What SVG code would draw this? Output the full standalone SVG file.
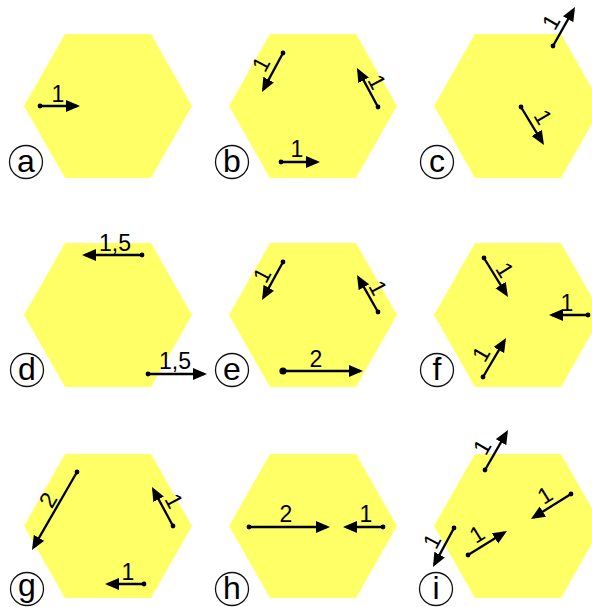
<svg xmlns="http://www.w3.org/2000/svg" width="592" height="607" viewBox="0 0 592 607">
<style>
.hex{fill:#FFFF66;stroke:none}
.tag circle{fill:#fff;stroke:#111;stroke-width:1.3}
.tag text{font-family:"Liberation Sans",Arial,sans-serif;font-size:32px;fill:#000;text-anchor:middle}
.ar{stroke:#000;stroke-width:2.3;fill:none;marker-end:url(#ah)}
.dot{fill:#000}
.lb{font-family:"Liberation Sans",Arial,sans-serif;font-size:23px;fill:#000;text-anchor:middle}
</style>
<defs>
<marker id="ah" markerUnits="userSpaceOnUse" markerWidth="15" markerHeight="13" refX="11" refY="6" orient="auto">
<path d="M0,0 L14,6 L0,12 Z" fill="#000"/>
</marker>
<polygon id="hx" points="-84,0 -43,-72 43,-72 84,0 43,72 -43,72"/>
</defs>
<rect width="592" height="607" fill="#fff"/>

<g id="panel-a"><use href="#hx" class="hex" x="108" y="106"/><g class="tag"><circle cx="26" cy="162" r="16.5"/><text x="26" y="172">a</text></g></g>
<g id="panel-b"><use href="#hx" class="hex" x="313" y="106"/><g class="tag"><circle cx="232" cy="162" r="16.5"/><text x="232" y="172">b</text></g></g>
<g id="panel-c"><use href="#hx" class="hex" x="518" y="106"/><g class="tag"><circle cx="437" cy="162" r="16.5"/><text x="437" y="172">c</text></g></g>
<g id="panel-d"><use href="#hx" class="hex" x="108" y="315"/><g class="tag"><circle cx="27" cy="370" r="16.5"/><text x="27" y="380">d</text></g></g>
<g id="panel-e"><use href="#hx" class="hex" x="313" y="315"/><g class="tag"><circle cx="232" cy="370" r="16.5"/><text x="232" y="380">e</text></g></g>
<g id="panel-f"><use href="#hx" class="hex" x="518" y="315"/><g class="tag"><circle cx="437" cy="370" r="16.5"/><text x="437" y="380">f</text></g></g>
<g id="panel-g"><use href="#hx" class="hex" x="108" y="526"/><g class="tag"><circle cx="27" cy="589" r="16.5"/><text x="27" y="596">g</text></g></g>
<g id="panel-h"><use href="#hx" class="hex" x="313" y="526"/><g class="tag"><circle cx="232" cy="589" r="16.5"/><text x="232" y="599">h</text></g></g>
<g id="panel-i"><use href="#hx" class="hex" x="518" y="526"/><g class="tag"><circle cx="436" cy="589" r="16.5"/><text x="436" y="599">i</text></g></g>

<g id="arrows">
<g id="arrows-a">
<path class="ar" d="M40,106 L77,106"/><circle class="dot" cx="40" cy="106" r="2.4"/>
<text class="lb" x="58" y="102">1</text>
</g>
<g id="arrows-b">
<path class="ar" d="M283,53 L263.4,89.4"/><circle class="dot" cx="283" cy="53" r="2.4"/>
<text class="lb" transform="translate(261,64) rotate(-62)" y="8">1</text>
<path class="ar" d="M378,107 L358.4,70.6"/><circle class="dot" cx="378" cy="107" r="2.4"/>
<text class="lb" transform="translate(377,82) rotate(62)" y="8">1</text>
<path class="ar" d="M281,162 L317,162"/><circle class="dot" cx="281" cy="162" r="2.4"/>
<text class="lb" x="297" y="157">1</text>
</g>
<g id="arrows-c">
<path class="ar" d="M553,46 L573.5,9.6"/><circle class="dot" cx="553" cy="46" r="2.4"/>
<text class="lb" transform="translate(551,22) rotate(-60)" y="8">1</text>
<path class="ar" d="M521,107 L542.4,142.4"/><circle class="dot" cx="521" cy="107" r="2.4"/>
<text class="lb" transform="translate(543,117) rotate(60)" y="8">1</text>
</g>
<g id="arrows-d">
<path class="ar" d="M142,255 L85,255"/><circle class="dot" cx="142" cy="255" r="2.4"/>
<text class="lb" x="115" y="251">1,5</text>
<path class="ar" d="M148,374 L204,374"/><circle class="dot" cx="148" cy="374" r="2.4"/>
<text class="lb" x="175" y="369">1,5</text>
</g>
<g id="arrows-e">
<path class="ar" d="M283,262 L263.5,297.4"/><circle class="dot" cx="283" cy="262" r="2.4"/>
<text class="lb" transform="translate(262,275) rotate(-62)" y="8">1</text>
<path class="ar" d="M378,312 L358.5,277.6"/><circle class="dot" cx="378" cy="312" r="2.4"/>
<text class="lb" transform="translate(378,288) rotate(62)" y="8">1</text>
<path class="ar" d="M283,371 L360,371"/><circle class="dot" cx="283" cy="371" r="3.6"/>
<text class="lb" x="316" y="367">2</text>
</g>
<g id="arrows-f">
<path class="ar" d="M484,258 L506.4,294.4"/><circle class="dot" cx="484" cy="258" r="2.4"/>
<text class="lb" transform="translate(505,270) rotate(58)" y="8">1</text>
<path class="ar" d="M588,315 L552,315"/><circle class="dot" cx="588" cy="315" r="2.4"/>
<text class="lb" x="567" y="311">1</text>
<path class="ar" d="M483,377 L504.5,340.6"/><circle class="dot" cx="483" cy="377" r="2.4"/>
<text class="lb" transform="translate(481,354) rotate(-60)" y="8">1</text>
</g>
<g id="arrows-g">
<path class="ar" d="M77,472 L33.5,547.4"/><circle class="dot" cx="77" cy="472" r="2.4"/>
<text class="lb" transform="translate(48,500) rotate(-60)" y="8">2</text>
<path class="ar" d="M173,526 L153.4,489.6"/><circle class="dot" cx="173" cy="526" r="2.4"/>
<text class="lb" transform="translate(174,501) rotate(62)" y="8">1</text>
<path class="ar" d="M144,584 L108,584"/><circle class="dot" cx="144" cy="584" r="2.4"/>
<text class="lb" x="128" y="580">1</text>
</g>
<g id="arrows-h">
<path class="ar" d="M249,527 L327,527"/><circle class="dot" cx="249" cy="527" r="2.4"/>
<text class="lb" x="286" y="522">2</text>
<path class="ar" d="M383,527 L346,527"/><circle class="dot" cx="383" cy="527" r="2.4"/>
<text class="lb" x="366" y="522">1</text>
</g>
<g id="arrows-i">
<path class="ar" d="M485,470 L506.5,432.6"/><circle class="dot" cx="485" cy="470" r="2.4"/>
<text class="lb" transform="translate(482,447) rotate(-60)" y="8">1</text>
<path class="ar" d="M571,494 L533.5,517.4"/><circle class="dot" cx="571" cy="494" r="2.4"/>
<text class="lb" transform="translate(545,495) rotate(-32)" y="8">1</text>
<path class="ar" d="M468,555 L504.4,532.6"/><circle class="dot" cx="468" cy="555" r="2.4"/>
<text class="lb" transform="translate(477,534) rotate(-32)" y="8">1</text>
<path class="ar" d="M454,528 L434.4,564.4"/><circle class="dot" cx="454" cy="528" r="2.4"/>
<text class="lb" transform="translate(432,541) rotate(-62)" y="8">1</text>
</g>
</g>
</svg>
